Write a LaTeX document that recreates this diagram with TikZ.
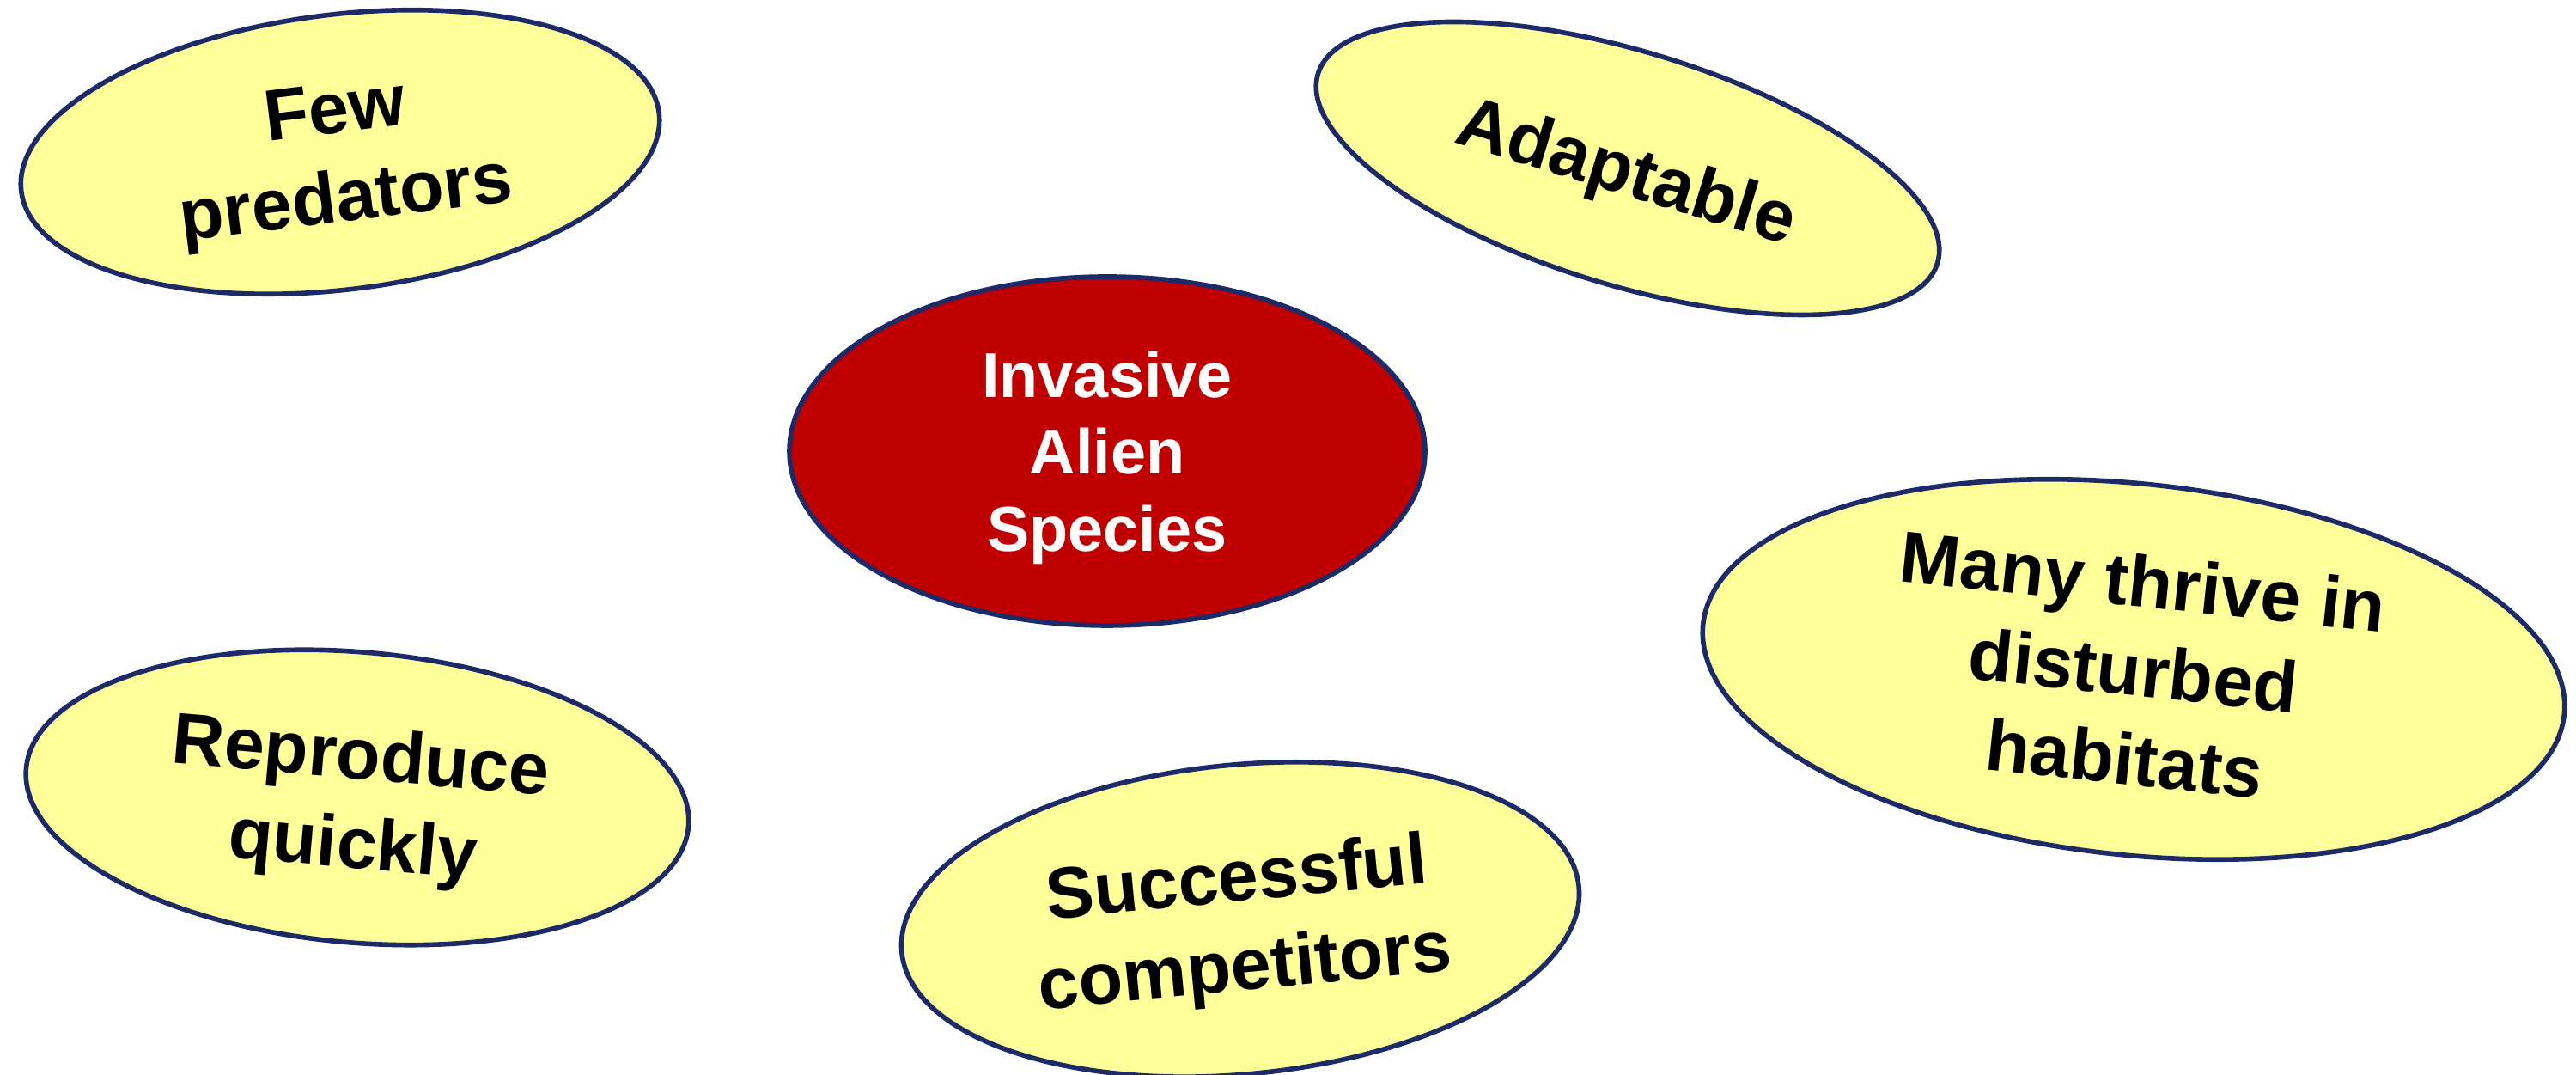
\documentclass[tikz,border=0pt]{standalone}
\usepackage{fontspec}
\setmainfont{Liberation Sans}
\usepackage{tikz}
\usetikzlibrary{shapes.geometric}

\definecolor{bubline}{RGB}{28,42,104}
\definecolor{bubfill}{RGB}{255,255,153}
\definecolor{corered}{RGB}{192,0,0}

\begin{document}
\begin{tikzpicture}[
    bub/.style={ellipse, draw=bubline, line width=1.6pt, fill=bubfill, inner sep=0pt,
      align=center, text depth=0pt, font=\fontsize{24}{29.5}\selectfont\bfseries},
    core/.style={bub, fill=corered, text=white, font=\fontsize{21}{25.5}\selectfont\bfseries}
  ]
    \useasboundingbox (0,0) rectangle (29.99,12.51);
    % centre
    \node[core, minimum width=7.40cm, minimum height=4.06cm] (ias) at (12.89,7.26)
      {Invasive\\Alien\\Species};
    % traits round it
    \node[bub, minimum width=7.48cm, minimum height=3.20cm, rotate=7] (few) at (3.96,10.74)
      {Few\\predators};
    \node[bub, minimum width=7.54cm, minimum height=2.72cm, rotate=-17] (adapt) at (18.95,10.55)
      {Adaptable};
    \node[bub, minimum width=10.08cm, minimum height=4.32cm, rotate=-6] (thrive) at (24.84,4.72)
      {Many thrive in\\disturbed\\habitats};
    \node[bub, minimum width=7.74cm, minimum height=3.38cm, rotate=-5] (repro) at (4.16,3.23)
      {Reproduce\\quickly};
    \node[bub, minimum width=7.92cm, minimum height=3.60cm, rotate=5.5] (compet) at (14.44,1.81)
      {Successful\\competitors};
\end{tikzpicture}
\end{document}
